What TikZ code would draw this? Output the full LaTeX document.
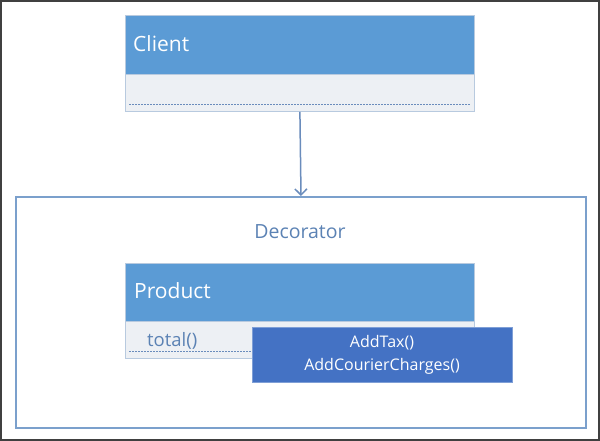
\documentclass[tikz,border=0pt]{standalone}
\usepackage{fontspec}
\setmainfont{Open Sans}
\usetikzlibrary{arrows.meta}
\definecolor{hdr}{HTML}{5B9BD5}
\definecolor{bodyc}{HTML}{EDF0F4}
\definecolor{edgec}{HTML}{B8CADF}
\definecolor{dashc}{HTML}{6A8CBC}
\definecolor{framec}{HTML}{7BA0CC}
\definecolor{ovl}{HTML}{4472C4}
\definecolor{ovledge}{HTML}{7F9FD6}
\definecolor{txtc}{HTML}{5B82B4}
\begin{document}
\begin{tikzpicture}[x=1pt,y=-1pt,
  hdrbox/.style={draw=edgec,fill=hdr,line width=0.8pt,anchor=north west,minimum width=349pt,minimum height=59pt,inner sep=0pt},
  bodybox/.style={draw=edgec,fill=bodyc,line width=0.8pt,anchor=north west,minimum width=349pt,minimum height=37pt,inner sep=0pt},
  hdrtext/.style={anchor=base west,text=white,font=\fontsize{21}{25}\selectfont,inner sep=0pt},
  dashln/.style={draw=dashc,dashed,dash pattern=on 2pt off 1pt,line width=0.8pt},
  ovlbox/.style={draw=ovledge,fill=ovl,line width=0.8pt,anchor=north west,minimum width=260pt,minimum height=55pt,inner sep=0pt},
  ovltext/.style={anchor=base,text=white,font=\fontsize{16}{19}\selectfont,inner sep=0pt}]
\useasboundingbox (0,0) rectangle (600,441);
\draw[draw=black!75,line width=1.6pt,fill=white] (0.8,0.8) rectangle (599.2,440.2);
% Client
\node[hdrbox] (chdr) at (125,15) {};
\node[bodybox] (cbody) at (125,74) {};
\node[hdrtext] (ctext) at (133,52) {Client};
\coordinate (cdl) at (129,104);
\coordinate (cdr) at (470,104);
\draw[dashln] (cdl) -- (cdr);
% Decorator frame
\node[draw=framec,line width=2pt,anchor=north west,minimum width=570pt,minimum height=231pt,inner sep=0pt] (deco) at (15,196) {};
\node[anchor=base,text=txtc,font=\fontsize{19.5}{24}\selectfont,inner sep=0pt] (dtext) at (300,238) {Decorator};
\draw[draw=dashc,line width=1.5pt,-{Straight Barb[length=6pt,width=12pt,line width=1.5pt]}] (cbody.south) -- (deco.north);
% Product
\node[hdrbox] (phdr) at (125,263) {};
\node[bodybox,minimum height=37pt] (pbody) at (125,321) {};
\node[hdrtext] (ptext) at (134,298) {Product};
\coordinate (pdl) at (129,351);
\coordinate (pdr) at (252,351);
\draw[dashln] (pdl) -- (pdr);
\node[anchor=base west,text=txtc,font=\fontsize{18.5}{22}\selectfont,inner sep=0pt] (total) at (147,346) {total()};
% overlay box
\node[ovlbox] (ovl) at (252,327) {};
\node[ovltext] (t1) at (382,347) {AddTax()};
\node[ovltext] (t2) at (382,370) {AddCourierCharges()};
\end{tikzpicture}
\end{document}
